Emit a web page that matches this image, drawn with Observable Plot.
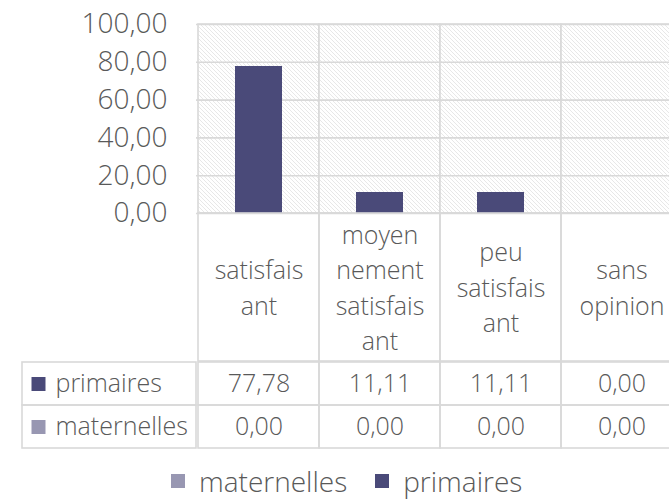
<!DOCTYPE html>
<html><head><meta charset="utf-8">
<script src="https://cdn.jsdelivr.net/npm/d3@7"></script>
<script src="https://cdn.jsdelivr.net/npm/@observablehq/plot@0.6"></script>
<style>
html,body{margin:0;padding:0;background:#fff;}
#chart{position:relative;width:669px;height:502px;overflow:hidden;font-family:"Open Sans",sans-serif;font-weight:300;color:#595959;}
#chart > *{position:absolute;}
</style></head><body><div id="chart"></div>
<script>
const categories = ["satisfaisant", "moyennement satisfaisant", "peu satisfaisant", "sans opinion"];
const categoryLabels = ["satisfais\nant", "moyen\nnement\nsatisfais\nant", "peu\nsatisfais\nant", "sans\nopinion"];
const seriesNames = ["maternelles", "primaires"];
const maternelles = [0.00, 0.00, 0.00, 0.00];
const primaires = [77.78, 11.11, 11.11, 0.00];
const seriesColors = ["#9897b2", "#4a4a79"];
const yTicks = [0, 20, 40, 60, 80, 100];
const tableRows = ["primaires", "maternelles"];

const fmt = d => d.toFixed(2).replace(".", ",");
const values = {maternelles, primaires};
const rows = categories.flatMap((c, i) => seriesNames.map(s => ({category: c, series: s, value: values[s][i]})));
const FONT = '"Open Sans", sans-serif';
const GRID = "#d9d9d9";
const baseStyle = {fontFamily: FONT, fontWeight: 300, color: "#595959", background: "transparent", maxWidth: "none", overflow: "visible"};
const X = {type: "band", domain: categories, padding: 0, axis: null};
const colorScale = {domain: seriesNames, range: seriesColors};

const chart = document.getElementById("chart");

// Plot area with bars
const A = Plot.plot({
  width: 690, height: 215, marginLeft: 196, marginRight: 7, marginTop: 24, marginBottom: 2,
  style: {...baseStyle, fontSize: "28px"},
  x: X,
  y: {domain: [0, 100], ticks: yTicks, tickFormat: fmt, tickSize: 0, tickPadding: 29, label: null},
  color: colorScale,
  marks: [
    Plot.cell(categories, {x: d => d, fill: "url(#hatch)", stroke: GRID, strokeWidth: 1.6}),
    Plot.gridY(yTicks, {stroke: GRID, strokeOpacity: 1, strokeWidth: 1.6}),
    Plot.barY(rows, {x: "category", y: "value", fill: "series", insetLeft: 37, insetRight: 37})
  ]
});
const ns = "http://www.w3.org/2000/svg";
const defs = document.createElementNS(ns, "defs");
const pat = document.createElementNS(ns, "pattern");
pat.setAttribute("id", "hatch");
pat.setAttribute("patternUnits", "userSpaceOnUse");
pat.setAttribute("width", "4");
pat.setAttribute("height", "4");
const bg = document.createElementNS(ns, "rect");
bg.setAttribute("width", "4"); bg.setAttribute("height", "4"); bg.setAttribute("fill", "#ffffff");
const p = document.createElementNS(ns, "path");
p.setAttribute("d", "M0,0L4,4M-1,3L1,5M3,-1L5,1");
p.setAttribute("stroke", "#dcdcdc");
p.setAttribute("stroke-width", "0.9");
p.setAttribute("stroke-dasharray", "1.1 0.3");
pat.appendChild(bg); pat.appendChild(p); defs.appendChild(pat);
A.insertBefore(defs, A.firstChild);
A.style.left = "0px"; A.style.top = "0px";
chart.appendChild(A);

// Category header row of the data table
const B = Plot.plot({
  width: 690, height: 148, marginLeft: 196, marginRight: 7, marginTop: 0, marginBottom: 0,
  style: {...baseStyle, fontSize: "25px"},
  x: X,
  marks: [
    Plot.cell(categories, {x: d => d, fill: "none", stroke: GRID, strokeWidth: 1.6}),
    Plot.text(categories, {x: d => d, text: (d, i) => categoryLabels[i], frameAnchor: "middle", dy: -2, fontSize: 25, lineHeight: 1.42, fill: "#595959"})
  ]
});
B.style.left = "0px"; B.style.top = "213px";
chart.appendChild(B);

// Values rows
const C = Plot.plot({
  width: 690, height: 87, marginLeft: 196, marginRight: 7, marginTop: 0, marginBottom: 0,
  style: {...baseStyle, fontSize: "25px"},
  x: X,
  y: {type: "band", domain: tableRows, padding: 0, axis: null},
  marks: [
    Plot.cell(rows, {x: "category", y: "series", fill: "none", stroke: GRID, strokeWidth: 1.6}),
    Plot.text(rows, {x: "category", y: "series", text: d => fmt(d.value), fontSize: 25, fill: "#595959"})
  ]
});
C.style.left = "0px"; C.style.top = "361px";
chart.appendChild(C);

// Row label column
const D = Plot.plot({
  width: 176, height: 87, marginLeft: 1, marginRight: 1, marginTop: 0, marginBottom: 0,
  style: {...baseStyle, fontSize: "25px"},
  y: {type: "band", domain: tableRows, padding: 0, axis: null},
  color: colorScale,
  marks: [
    Plot.cell(tableRows, {y: d => d, fill: "none", stroke: GRID, strokeWidth: 1.6}),
    Plot.dot(tableRows, {y: d => d, frameAnchor: "left", dx: 16, symbol: "square", r: 7.9, fill: d => d, stroke: null}),
    Plot.text(tableRows, {y: d => d, text: d => d, frameAnchor: "left", dx: 33, textAnchor: "start", fontSize: 25, fill: "#595959"})
  ]
});
D.style.left = "21px"; D.style.top = "361px";
chart.appendChild(D);

// Legend
const L = Plot.legend({
  color: colorScale, legend: "swatches", swatchSize: 14,
  style: {fontFamily: FONT, fontWeight: 300, fontSize: "28px", color: "#595959", background: "transparent", margin: "0", lineHeight: "1"}
});
L.style.left = "171px"; L.style.top = "467px"; L.style.whiteSpace = "nowrap"; L.style.minHeight = "0"; L.style.margin = "0";
chart.appendChild(L);
</script></body></html>
